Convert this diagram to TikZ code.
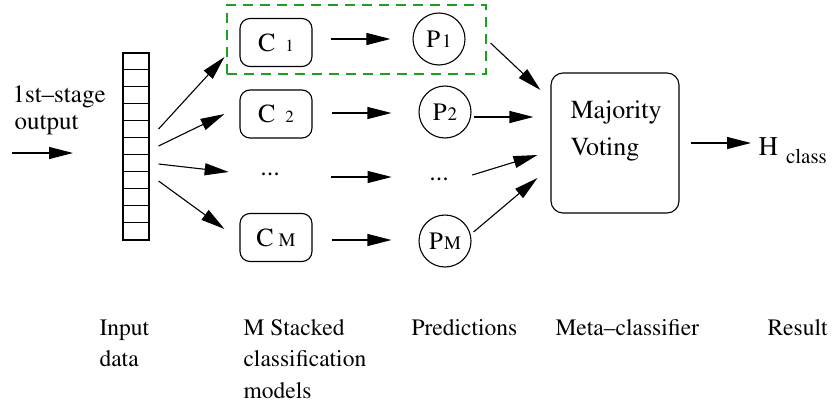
\documentclass[tikz,border=0pt]{standalone}
\usepackage[T1]{fontenc}
\usepackage{mathptmx}
\usetikzlibrary{arrows.meta,calc}
\definecolor{dgreen}{RGB}{30,160,30}
\newcommand{\fs}[1]{\fontsize{#1}{#1}\selectfont}
\begin{document}
\begin{tikzpicture}[x=1pt,y=-1pt, line width=1.1pt,
  conn/.style={-{Triangle[length=24pt,width=12pt]}},
  cbox/.style={draw, rounded corners=10pt, minimum width=72pt, minimum height=48pt, inner sep=0pt},
  pcirc/.style={draw, circle, minimum size=52pt, inner sep=0pt},
  lbl/.style={anchor=base west, inner sep=0pt, font=\fs{23.5}},
  dots/.style={inner sep=0pt, text height=0pt, text depth=0pt, font=\fs{26}},
]
\useasboundingbox (0,0) rectangle (832,407);

% input array
\node[draw, minimum width=26pt, minimum height=187pt, inner sep=0pt] (arr) at (136,146.5) {};
\foreach \i in {1,...,10}
  \draw ($(arr.north west)+(0,17*\i)$) -- ($(arr.north east)+(0,17*\i)$);

% input arrow and label
\coordinate (in0) at (12,153);
\coordinate (in1) at (73,153);
\draw[conn] (in0) -- (in1);
\node[lbl, font=\fs{25}] (t1) at (12,102) {1st--stage};
\node[lbl, font=\fs{25}] (t2) at (14,129) {output};

% dashed group
\node[draw=dgreen, dash pattern=on 10pt off 7pt, minimum width=259pt, minimum height=69pt, inner sep=0pt] (grp) at (356.5,39.5) {};

% classifiers
\node[cbox] (c1) at (276,42.5) {{\fs{26}C}\hspace{10pt}{\fs{17}1}};
\node[cbox] (c2) at (276,114) {{\fs{26}C}\hspace{10pt}{\fs{17}2}};
\node[dots] (d1) at (270,175) {...};
\node[cbox] (cM) at (276,237.5) {{\fs{26}C}\hspace{5pt}{\fs{19}M}};

% predictions
\node[pcirc] (p1) at (439,39) {{\fs{25}P}\hspace{2pt}{\fs{19}1}};
\node[pcirc] (p2) at (445,112) {{\fs{25}P}\hspace{1pt}{\fs{19}2}};
\node[dots] (d2) at (439,180) {...};
\node[pcirc] (pM) at (445,241) {{\fs{25}P}\hspace{1pt}{\fs{19}M}};

% meta classifier
\node[draw, rounded corners=12pt, minimum width=128pt, minimum height=140pt, inner sep=0pt] (mv) at (615,143) {};
\node[lbl, font=\fs{26}] (mv1) at (570,118) {Majority};
\node[lbl, font=\fs{26}] (mv2) at (570,155) {Voting};

% result
\node[anchor=base west, inner sep=0pt] (h) at (758,155) {{\fs{27}H}\hspace{8pt}\raisebox{-8pt}{\fs{21}class}};

% arrows array -> classifiers
\draw[conn] ($(arr.east)+(9,-17.5)$) -- ($(c1.west)+(-15,14.5)$);
\draw[conn] ($(arr.east)+(9,-0.5)$) -- ($(c2.west)+(-15,0)$);
\draw[conn] ($(arr.east)+(9,17.5)$) -- ($(d1.west)+(-31,-3)$);
\draw[conn] ($(arr.east)+(9,34.5)$) -- ($(cM.west)+(-15,-8.5)$);

% classifiers -> predictions
\draw[conn] ($(c1.east |- p1)+(18,0)$) -- ($(p1.west)+(-22,0)$);
\draw[conn] ($(c2.east)+(19,-1)$) -- ($(p2.west)+(-27,1)$);
\draw[conn] ($(d1.east)+(51,2)$) -- ($(d2.west)+(-37,-3)$);
\draw[conn] ($(cM.east |- pM)+(19,-1)$) -- ($(pM.west)+(-27,-1)$);

% predictions -> meta
\draw[conn] ($(p1.east)+(25,4)$) -- ($(mv.west)+(-10,-53)$);
\draw[conn] ($(p2.east)+(2,5)$) -- ($(mv.west)+(-17,-26)$);
\draw[conn] ($(d2.east)+(23,-5)$) -- ($(mv.west)+(-13,12)$);
\draw[conn] ($(pM.east)+(2,-9)$) -- ($(mv.west)+(-13,35)$);

% meta -> result
\draw[conn] ($(mv.east)+(11,0)$) -- ($(h.base west)+(-7,-12)$);

% bottom labels
\node[lbl] (b1) at (99,335) {Input};
\node[lbl] (b2) at (99,366) {data};
\node[lbl] (b3) at (243,335) {M Stacked};
\node[lbl] (b4) at (243,366) {classification};
\node[lbl] (b5) at (243,398) {models};
\node[lbl] (b6) at (411,335) {Predictions};
\node[lbl] (b7) at (555,335) {Meta--classifier};
\node[lbl] (b8) at (767,335) {Result};
\end{tikzpicture}
\end{document}
